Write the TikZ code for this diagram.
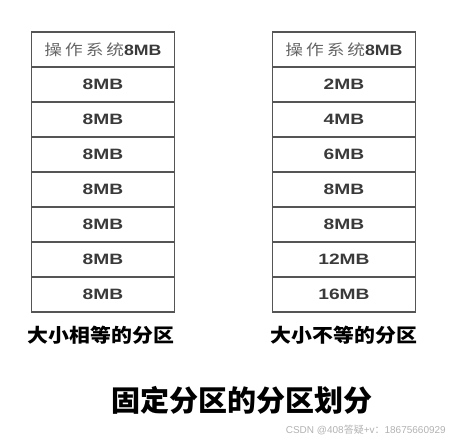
\documentclass[tikz,border=0pt]{standalone}
\usepackage{fontspec}
\setmainfont{Liberation Sans}
\newfontfamily\cjk{Noto Sans CJK SC}
\usetikzlibrary{positioning}
\definecolor{cellline}{HTML}{555555}
\definecolor{celltext}{HTML}{3A3A3A}
\tikzset{
  cell/.style={draw=cellline, line width=1.4pt, minimum width=143pt, minimum height=35pt, inner sep=0pt, outer sep=0pt, text=celltext, font=\fontsize{15}{15}\selectfont\bfseries},
  caption/.style={font=\cjk\fontsize{19}{19}\selectfont\bfseries, inner sep=0pt},
  title/.style={font=\cjk\fontsize{29}{29}\selectfont\bfseries, inner sep=0pt},
  wmark/.style={font=\fontsize{10}{10}\selectfont, text=black!30, inner sep=0pt}
}
\newcommand{\wide}[1]{\scalebox{1.28}[1]{#1}}
\newcommand{\oshead}{\scalebox{1.18}[1]{{\cjk\mdseries\color{black!60}操\,作\,系\,统}8MB}}
\begin{document}
\begin{tikzpicture}[x=1pt,y=-1pt]
\useasboundingbox (0,0) rectangle (450,442);
% left column
\node[cell] (l0) at (103,49.5) {\oshead};
\foreach \i/\t in {1/8MB,2/8MB,3/8MB,4/8MB,5/8MB,6/8MB,7/8MB}{
  \node[cell] (l\i) at (103,{49.5+35*\i}) {\wide{\t}};
}
% right column
\node[cell] (r0) at (344,49.5) {\oshead};
\foreach \i/\t in {1/2MB,2/4MB,3/6MB,4/8MB,5/8MB,6/12MB,7/16MB}{
  \node[cell] (r\i) at (344,{49.5+35*\i}) {\wide{\t}};
}
\node[caption] (lc) at (101,335) {\scalebox{1.1}[1]{大小相等的分区}};
\node[caption] (rc) at (344,335) {\scalebox{1.1}[1]{大小不等的分区}};
\node[title] (t) at (242,400) {固定分区的分区划分};
\node[wmark, anchor=east] (w) at (446,430) {CSDN @408{\cjk 答疑}+v{\cjk ：}18675660929};
\end{tikzpicture}
\end{document}
